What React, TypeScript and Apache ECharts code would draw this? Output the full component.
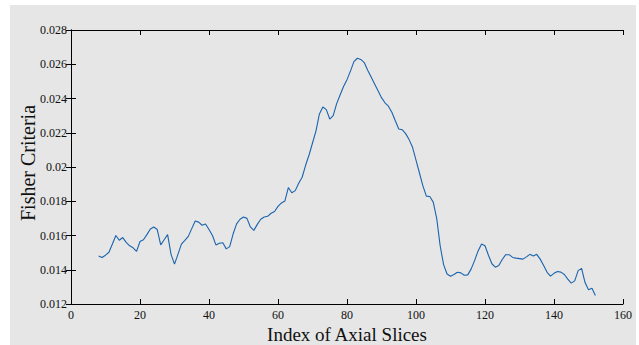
import React, { useEffect, useRef } from "react";
import * as echarts from "echarts";

const sliceStart = 8;
const fisherValues = [
  0.01480, 0.01472, 0.01485, 0.01502, 0.01550, 0.01600, 0.01572, 0.01588, 0.01560, 0.01540,
  0.01528, 0.01507, 0.01565, 0.01575, 0.01605, 0.01638, 0.01650, 0.01635, 0.01545, 0.01575,
  0.01605, 0.01490, 0.01433, 0.01490, 0.01550, 0.01572, 0.01595, 0.01640, 0.01685, 0.01678,
  0.01660, 0.01667, 0.01635, 0.01600, 0.01545, 0.01555, 0.01558, 0.01522, 0.01535, 0.01610,
  0.01668, 0.01695, 0.01708, 0.01700, 0.01650, 0.01630, 0.01665, 0.01695, 0.01708, 0.01712,
  0.01730, 0.01740, 0.01770, 0.01790, 0.01802, 0.01880, 0.01850, 0.01862, 0.01905, 0.01940,
  0.02010, 0.02070, 0.02140, 0.02210, 0.02310, 0.02350, 0.02335, 0.02280, 0.02300, 0.02370,
  0.02420, 0.02470, 0.02510, 0.02560, 0.02615, 0.02635, 0.02628, 0.02610, 0.02565, 0.02525,
  0.02485, 0.02445, 0.02405, 0.02375, 0.02355, 0.02320, 0.02270, 0.02222, 0.02218, 0.02195,
  0.02160, 0.02115, 0.02040, 0.01965, 0.01890, 0.01830, 0.01828, 0.01795, 0.01700, 0.01540,
  0.01430, 0.01375, 0.01362, 0.01372, 0.01385, 0.01382, 0.01368, 0.01370, 0.01405, 0.01455,
  0.01510, 0.01550, 0.01540, 0.01485, 0.01435, 0.01415, 0.01425, 0.01460, 0.01488, 0.01488,
  0.01472, 0.01468, 0.01465, 0.01462, 0.01475, 0.01490, 0.01480, 0.01490, 0.01462, 0.01425,
  0.01385, 0.01363, 0.01379, 0.01390, 0.01386, 0.01372, 0.01345, 0.01322, 0.01335, 0.01395,
  0.01408, 0.01325, 0.01283, 0.01292, 0.01250,
];

const xTitle = "Index of Axial Slices";
const yTitle = "Fisher Criteria";

export default function App() {
  const ref = useRef<HTMLDivElement>(null);
  useEffect(() => {
    if (!ref.current) return;
    const chart = echarts.init(ref.current, undefined, { renderer: "svg", width: 639, height: 345 });
    const data = fisherValues.map((v, i) => [sliceStart + i, v]);
    const font = "Liberation Serif";
    const lineStyle = { color: "#000", width: 1 };
    const tick = { show: true, inside: true, length: 5, lineStyle };
    chart.setOption({
      animation: false,
      backgroundColor: "transparent",
      grid: { left: 71, right: 16, top: 30, bottom: 41, containLabel: false },
      graphic: [
        {
          type: "text",
          x: 28,
          y: 163,
          rotation: Math.PI / 2,
          style: {
            text: yTitle,
            fill: "#111",
            font: "20px Liberation Serif",
            textAlign: "center",
            textVerticalAlign: "middle",
          },
        },
        {
          type: "text",
          x: 347,
          y: 334,
          style: {
            text: xTitle,
            fill: "#111",
            font: "19px Liberation Serif",
            textAlign: "center",
            textVerticalAlign: "middle",
          },
        },
      ],
      xAxis: [
        {
          type: "value",
          min: 0,
          max: 160,
          interval: 20,
          axisLine: { show: true, lineStyle },
          axisTick: tick,
          splitLine: { show: false },
          axisLabel: { color: "#111", fontFamily: font, fontSize: 12, margin: 5 },
        },
        {
          type: "value",
          position: "top",
          min: 0,
          max: 160,
          interval: 20,
          axisLine: { show: true, lineStyle },
          axisTick: tick,
          splitLine: { show: false },
          axisLabel: { show: false },
        },
      ],
      yAxis: [
        {
          type: "value",
          min: 0.012,
          max: 0.028,
          interval: 0.002,
          axisLine: { show: true, lineStyle },
          axisTick: tick,
          splitLine: { show: false },
          axisLabel: { color: "#111", fontFamily: font, fontSize: 12, margin: 4 },
        },
        {
          type: "value",
          position: "right",
          min: 0.012,
          max: 0.028,
          interval: 0.002,
          axisLine: { show: true, lineStyle },
          axisTick: tick,
          splitLine: { show: false },
          axisLabel: { show: false },
        },
      ],
      series: [
        {
          type: "line",
          data,
          showSymbol: false,
          symbol: "none",
          lineStyle: { color: "#1a63ad", width: 1.1 },
          xAxisIndex: 0,
          yAxisIndex: 0,
        },
      ],
    });
    return () => chart.dispose();
  }, []);
  return (
    <div style={{ position: "fixed", left: 0, top: 0, width: 639, height: 345, background: "#fff" }}>
      <div style={{ position: "absolute", left: 10, top: 5, width: 626, height: 340, background: "#e6e6e6" }} />
      <div ref={ref} style={{ position: "absolute", left: 0, top: 0, width: 639, height: 345 }} />
    </div>
  );
}
